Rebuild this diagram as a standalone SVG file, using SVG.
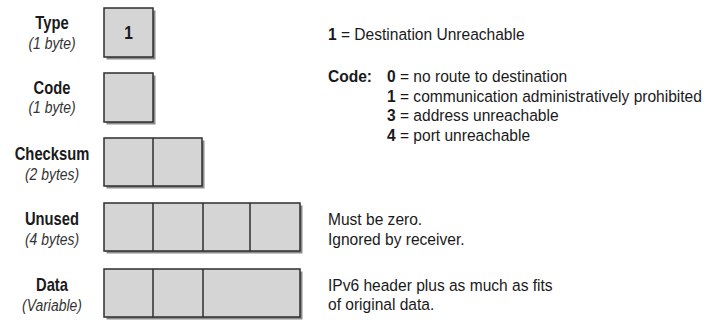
<svg xmlns="http://www.w3.org/2000/svg" width="725" height="323" viewBox="0 0 725 323">
  <defs>
    <style>
      text { font-family: "Liberation Sans", Arial, sans-serif; }
      .lbl { font-size: 18px; font-weight: bold; fill: #1a1a1a; text-anchor: middle; }
      .sub { font-size: 17px; font-style: italic; fill: #333; text-anchor: middle; }
      .txt { font-size: 17px; fill: #1a1a1a; }
      .bold { font-weight: bold; }
      .cell { fill: #d5d5d5; stroke: #2e2e2e; stroke-width: 1.5; }
      .shadow { fill: #8c8c8c; }
      .div { stroke: #2e2e2e; stroke-width: 1.5; }
    </style>
  </defs>
  <rect width="725" height="323" fill="#fff"/>

  <!-- Type field -->
  <g id="type">
    <text class="lbl" transform="translate(52 29) scale(0.82 1)">Type</text>
    <text class="sub" transform="translate(52 49) scale(0.82 1)">(1 byte)</text>
    <rect class="shadow" x="106.5" y="10.5" width="49" height="49"/>
    <rect class="cell" x="104" y="8" width="49" height="49"/>
    <text class="lbl" transform="translate(128.5 39) scale(0.82 1)" style="font-size:19px">1</text>
  </g>

  <!-- Code field -->
  <g id="code">
    <text class="lbl" transform="translate(52 94) scale(0.82 1)">Code</text>
    <text class="sub" transform="translate(52 113) scale(0.82 1)">(1 byte)</text>
    <rect class="shadow" x="106.5" y="75.5" width="49" height="49"/>
    <rect class="cell" x="104" y="73" width="49" height="49"/>
  </g>

  <!-- Checksum field -->
  <g id="checksum">
    <text class="lbl" transform="translate(52 160) scale(0.82 1)">Checksum</text>
    <text class="sub" transform="translate(52 180) scale(0.82 1)">(2 bytes)</text>
    <rect class="shadow" x="106.5" y="140.5" width="98" height="48"/>
    <rect class="cell" x="104" y="138" width="98" height="48"/>
    <line class="div" x1="153" y1="138" x2="153" y2="186"/>
  </g>

  <!-- Unused field -->
  <g id="unused">
    <text class="lbl" transform="translate(52 225) scale(0.82 1)">Unused</text>
    <text class="sub" transform="translate(52 245) scale(0.82 1)">(4 bytes)</text>
    <rect class="shadow" x="106.5" y="205.5" width="196" height="48"/>
    <rect class="cell" x="104" y="203" width="196" height="48"/>
    <line class="div" x1="153" y1="203" x2="153" y2="251"/>
    <line class="div" x1="203" y1="203" x2="203" y2="251"/>
    <line class="div" x1="250" y1="203" x2="250" y2="251"/>
    <text class="txt" transform="translate(328 225) scale(0.915 1)">Must be zero.</text>
    <text class="txt" transform="translate(328 245) scale(0.915 1)">Ignored by receiver.</text>
  </g>

  <!-- Data field -->
  <g id="data">
    <text class="lbl" transform="translate(52 291) scale(0.82 1)">Data</text>
    <text class="sub" transform="translate(52 311) scale(0.82 1)">(Variable)</text>
    <rect class="shadow" x="106.5" y="271.5" width="196" height="48"/>
    <rect class="cell" x="104" y="269" width="196" height="48"/>
    <line class="div" x1="153" y1="269" x2="153" y2="317"/>
    <line class="div" x1="203" y1="269" x2="203" y2="317"/>
    <text class="txt" transform="translate(328 291) scale(0.915 1)">IPv6 header plus as much as fits</text>
    <text class="txt" transform="translate(328 310) scale(0.915 1)">of original data.</text>
  </g>

  <!-- Type and code meanings -->
  <g id="legend">
    <text class="txt" transform="translate(328 40) scale(0.915 1)"><tspan class="bold">1</tspan> = Destination Unreachable</text>
    <text class="txt bold" transform="translate(328 82) scale(0.915 1)">Code:</text>
    <text class="txt" transform="translate(387 82) scale(0.915 1)"><tspan class="bold">0</tspan> = no route to destination</text>
    <text class="txt" transform="translate(387 101.5) scale(0.915 1)"><tspan class="bold">1</tspan> = communication administratively prohibited</text>
    <text class="txt" transform="translate(387 121) scale(0.915 1)"><tspan class="bold">3</tspan> = address unreachable</text>
    <text class="txt" transform="translate(387 140.5) scale(0.915 1)"><tspan class="bold">4</tspan> = port unreachable</text>
  </g>

  <g id="connectors"/>
</svg>
